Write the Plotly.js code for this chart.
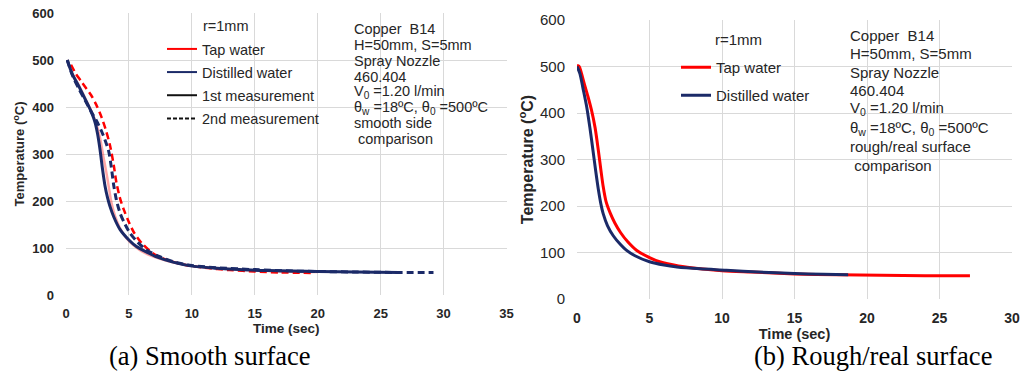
<!DOCTYPE html>
<html>
<head>
<meta charset="utf-8">
<script src="https://cdn.plot.ly/plotly-3.0.1.min.js"></script>
<style>html,body{margin:0;padding:0;background:#fff;}#chart{width:1029px;height:372px;}</style>
</head>
<body>
<div id="chart"></div>
<script>
// ---------- (a) Smooth surface ----------
const smoothTapT1 = [0.1, 0.5, 1.0, 1.5, 2.0, 2.4, 2.7, 3.0, 3.2, 3.4, 3.6, 3.9, 4.3, 4.8, 5.4, 6.0, 7.0, 8.0, 9.5, 11, 13, 15, 17, 20];
const smoothTapY1 = [500, 472, 447, 420, 392, 365, 335, 290, 262, 230, 198, 168, 142, 121, 105, 93, 81, 73, 64, 59, 55, 52, 50, 49];
const smoothTapT2 = [0.4, 0.8, 1.2, 1.6, 2.0, 2.4, 2.8, 3.2, 3.5, 3.8, 4.0, 4.3, 4.6, 5.0, 5.4, 6.0, 6.9, 8.0, 9.5, 11, 13, 15, 17, 19.5];
const smoothTapY2 = [490, 470, 455, 440, 425, 405, 380, 348, 318, 275, 240, 205, 181, 155, 133, 111, 89, 75, 64, 58, 53, 50, 48, 47];
const smoothDistT1 = [0.1, 0.5, 1.0, 1.5, 2.0, 2.3, 2.5, 2.7, 2.9, 3.1, 3.3, 3.5, 3.8, 4.3, 5.0, 5.6, 6.5, 7.2, 8.5, 9.9, 12, 13.8, 16, 18, 20, 23, 26.5];
const smoothDistY1 = [500, 470, 445, 418, 390, 368, 344, 310, 268, 232, 207, 188, 166, 139, 117, 103, 90, 81, 70, 62, 57, 54, 52, 51, 50, 49, 48];
const smoothDistT2 = [0.1, 0.5, 1.0, 1.5, 2.0, 2.4, 2.8, 3.1, 3.4, 3.6, 3.8, 4.0, 4.3, 4.7, 5.1, 5.7, 6.4, 7.4, 8.5, 10, 12, 15, 18, 20, 23, 26, 29.2];
const smoothDistY2 = [500, 468, 440, 415, 390, 372, 350, 330, 305, 272, 232, 203, 174, 150, 131, 112, 96, 82, 71, 63, 58, 54, 51, 50, 49, 48, 48];

// ---------- (b) Rough/real surface ----------
const roughTapT = [0, 0.15, 0.3, 0.5, 0.75, 1.0, 1.25, 1.47, 1.65, 1.8, 2.0, 2.3, 2.6, 3.0, 3.5, 4.1, 5.0, 5.7, 7.0, 8.5, 10, 12, 15, 18, 21, 24, 27.1];
const roughTapY = [502, 500, 486, 463, 436, 406, 368, 320, 277, 243, 210, 184, 164, 143, 123, 105, 89, 80, 71, 65, 61, 58, 54, 52, 51, 50, 50];
const roughDistT = [0, 0.2, 0.4, 0.67, 0.9, 1.1, 1.3, 1.47, 1.65, 1.8, 2.1, 2.5, 3.0, 3.4, 4.0, 5.0, 6.0, 6.9, 8.5, 10.3, 12.5, 15, 17, 18.7];
const roughDistY = [500, 485, 455, 413, 366, 320, 273, 236, 204, 184, 158, 136, 117, 105, 93, 80, 73, 69, 65, 62, 58, 55, 53, 52];

const smoothTicksX = [0, 5, 10, 15, 20, 25, 30, 35];
const roughTicksX = [0, 5, 10, 15, 20, 25, 30];
const ticksY = [0, 100, 200, 300, 400, 500, 600];

const legendSmooth = ["Tap water", "Distilled water", "1st measurement", "2nd measurement"];
const legendRough = ["Tap water", "Distilled water"];
const radiusLabel = "r=1mm";
const infoSmooth = ["Copper  B14", "H=50mm, S=5mm", "Spray Nozzle", "460.404", "V<sub>0</sub> =1.20 l/min", "θ<sub>w</sub> =18ºC, θ<sub>0</sub> =500ºC", "smooth side", " comparison"];
const infoRough = ["Copper  B14", "H=50mm, S=5mm", "Spray Nozzle", "460.404", "V<sub>0</sub> =1.20 l/min", "θ<sub>w</sub> =18ºC, θ<sub>0</sub> =500ºC", "rough/real surface", " comparison"];
const captions = ["(a) Smooth surface", "(b) Rough/real surface"];
const yTitle = "Temperature (<sup>o</sup>C)";
const xTitle = "Time (sec)";

// ---------- layout helpers ----------
const W = 1029, H = 372;
const px = v => v / W;
const py = v => 1 - v / H;
const RED = '#ff0000', NAVY = '#1b2a68', GRID = '#d9d9d9', TXT = '#262626';
const SANS = 'Liberation Sans, Arial, sans-serif';
const SERIF = 'Liberation Serif, Times New Roman, serif';
const boldLabels = arr => arr.map(v => '<b>' + v + '</b>');

const traces = [
  {x: smoothTapT1, y: smoothTapY1, mode: 'lines', line: {color: 'rgba(255,0,0,0.35)', width: 2.5, shape: 'spline', smoothing: 0.8}, showlegend: false, xaxis: 'x', yaxis: 'y'},
  {x: smoothTapT2, y: smoothTapY2, mode: 'lines', line: {color: RED, width: 2.5, dash: '7px,4px', shape: 'spline', smoothing: 0.8}, showlegend: false, xaxis: 'x', yaxis: 'y'},
  {x: smoothDistT1, y: smoothDistY1, mode: 'lines', line: {color: NAVY, width: 3, shape: 'spline', smoothing: 0.8}, showlegend: false, xaxis: 'x', yaxis: 'y'},
  {x: smoothDistT2, y: smoothDistY2, mode: 'lines', line: {color: NAVY, width: 3, dash: '7px,4px', shape: 'spline', smoothing: 0.8}, showlegend: false, xaxis: 'x', yaxis: 'y'},
  // legend entries of panel (a)
  {x: [null], y: [null], name: legendSmooth[0], mode: 'lines', line: {color: RED, width: 2}, legend: 'legend', legendgroup: 'a1', xaxis: 'x', yaxis: 'y'},
  {x: [null], y: [null], name: legendSmooth[1], mode: 'lines', line: {color: NAVY, width: 2}, legend: 'legend', legendgroup: 'a2', xaxis: 'x', yaxis: 'y'},
  {x: [null], y: [null], name: legendSmooth[2], mode: 'lines', line: {color: '#111', width: 2}, legend: 'legend', legendgroup: 'a3', xaxis: 'x', yaxis: 'y'},
  {x: [null], y: [null], name: legendSmooth[3], mode: 'lines', line: {color: '#111', width: 2, dash: '4px,2px'}, legend: 'legend', legendgroup: 'a4', xaxis: 'x', yaxis: 'y'},
  // panel (b)
  {x: roughTapT, y: roughTapY, name: legendRough[0], mode: 'lines', line: {color: RED, width: 3, shape: 'spline', smoothing: 0.8}, legend: 'legend2', legendgroup: 'b1', xaxis: 'x2', yaxis: 'y2'},
  {x: roughDistT, y: roughDistY, name: legendRough[1], mode: 'lines', line: {color: NAVY, width: 3, shape: 'spline', smoothing: 0.8}, legend: 'legend2', legendgroup: 'b2', xaxis: 'x2', yaxis: 'y2'}
];

function axisX(domain, range, ticks, fs, titleFs, anchor) {
  return {
    domain: domain, range: range, tickmode: 'array', tickvals: ticks, ticktext: boldLabels(ticks), anchor: anchor,
    showgrid: true, gridcolor: GRID, gridwidth: 1, zeroline: false, showline: false,
    ticks: '', ticklabelstandoff: 9,
    tickfont: {family: SANS, size: fs, color: TXT},
    title: {text: xTitle, font: {family: SANS, size: titleFs, color: TXT, weight: 700}, standoff: 1},
    automargin: false, fixedrange: true
  };
}
function axisY(domain, range, ticks, fs, bold, titleFs, anchor, standoff) {
  return {
    domain: domain, range: range, tickmode: 'array', tickvals: ticks, ticktext: bold ? boldLabels(ticks) : ticks.map(String), anchor: anchor,
    showgrid: true, gridcolor: GRID, gridwidth: 1, zeroline: false, showline: false,
    ticks: '', ticklabelstandoff: 11,
    tickfont: {family: SANS, size: fs, color: TXT},
    title: {text: yTitle, font: {family: SANS, size: titleFs, color: TXT, weight: 700}, standoff: standoff},
    automargin: false, fixedrange: true
  };
}

const shapes = [
  // white boxes behind legend / info text
  {type: 'rect', xref: 'paper', yref: 'paper', x0: px(157), x1: px(335), y0: py(134), y1: py(15), fillcolor: '#fff', line: {width: 0}, layer: 'between'},
  {type: 'rect', xref: 'paper', yref: 'paper', x0: px(343), x1: px(503), y0: py(152), y1: py(15), fillcolor: '#fff', line: {width: 0}, layer: 'between'},
  {type: 'rect', xref: 'paper', yref: 'paper', x0: px(673), x1: px(827), y0: py(110), y1: py(24), fillcolor: '#fff', line: {width: 0}, layer: 'between'},
  {type: 'rect', xref: 'paper', yref: 'paper', x0: px(845), x1: px(1003), y0: py(182), y1: py(24), fillcolor: '#fff', line: {width: 0}, layer: 'between'}
];

const annotations = [];
const infoSmoothY = [29, 45, 61, 77, 92, 108, 123, 139];
infoSmooth.forEach((t, i) => annotations.push({text: t, xref: 'paper', yref: 'paper', x: px(352), y: py(infoSmoothY[i]), xanchor: 'left', yanchor: 'middle', showarrow: false, font: {family: SANS, size: 14.5, color: TXT}}));
const infoRoughY = [35, 53.5, 72, 90, 109, 128, 146, 165];
infoRough.forEach((t, i) => annotations.push({text: t, xref: 'paper', yref: 'paper', x: px(848), y: py(infoRoughY[i]), xanchor: 'left', yanchor: 'middle', showarrow: false, font: {family: SANS, size: 15, color: TXT}}));
annotations.push({text: radiusLabel, xref: 'paper', yref: 'paper', x: px(201), y: py(26), xanchor: 'left', yanchor: 'middle', showarrow: false, font: {family: SANS, size: 14.5, color: TXT}});
annotations.push({text: radiusLabel, xref: 'paper', yref: 'paper', x: px(713), y: py(39), xanchor: 'left', yanchor: 'middle', showarrow: false, font: {family: SANS, size: 15, color: TXT}});
annotations.push({text: captions[0], xref: 'paper', yref: 'paper', x: px(210), y: py(356), xanchor: 'center', yanchor: 'middle', showarrow: false, font: {family: SERIF, size: 26.5, color: '#000'}});
annotations.push({text: captions[1], xref: 'paper', yref: 'paper', x: px(873), y: py(356), xanchor: 'center', yanchor: 'middle', showarrow: false, font: {family: SERIF, size: 26.5, color: '#000'}});

const layout = {
  width: W, height: H,
  margin: {l: 0, r: 0, t: 0, b: 0},
  paper_bgcolor: '#fff', plot_bgcolor: 'rgba(0,0,0,0)',
  font: {family: SANS, color: TXT},
  xaxis: axisX([px(66), px(506.5)], [0, 35], smoothTicksX, 13, 13.5, 'y'),
  yaxis: axisY([py(295), py(13)], [0, 600], ticksY, 13, true, 13, 'x', 4),
  xaxis2: axisX([px(577), px(1012)], [0, 30], roughTicksX, 14, 14.5, 'y2'),
  yaxis2: axisY([py(299), py(20)], [0, 600], ticksY, 15, false, 16, 'x2', 2),
  legend: {x: px(162), y: py(33), xanchor: 'left', yanchor: 'top', bgcolor: 'rgba(0,0,0,0)', borderwidth: 0,
           font: {family: SANS, size: 14.5, color: TXT}, traceorder: 'grouped', tracegroupgap: 1.3, itemwidth: 30, itemclick: false},
  legend2: {x: px(676), y: py(51), xanchor: 'left', yanchor: 'top', bgcolor: 'rgba(0,0,0,0)', borderwidth: 0,
           font: {family: SANS, size: 15, color: TXT}, traceorder: 'grouped', tracegroupgap: 5.5, itemwidth: 30, itemclick: false},
  shapes: shapes,
  annotations: annotations
};

Plotly.newPlot('chart', traces, layout, {staticPlot: true, displayModeBar: false});
</script>
</body>
</html>
